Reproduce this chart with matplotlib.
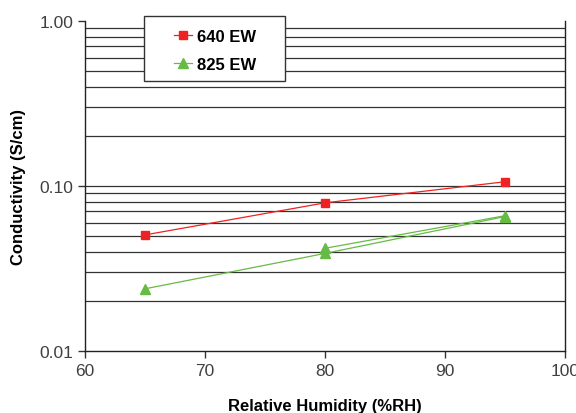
import matplotlib
matplotlib.use("Agg")
import matplotlib.pyplot as plt
from matplotlib.patches import Rectangle
from matplotlib.ticker import FixedLocator, NullFormatter

plt.rcParams['font.family'] = ['Liberation Sans', 'DejaVu Sans']

humidity = [65, 80, 95]
cond_640 = [0.0505, 0.079, 0.106]
cond_825 = [0.0238, 0.039, 0.0652]
humidity_825b = [80, 95]
cond_825b = [0.0419, 0.066]

red = '#ee2222'
green = '#66bb44'

fig = plt.figure(figsize=(5.76, 4.14), dpi=100)
ax = fig.add_axes([0.148, 0.15, 0.833, 0.797])

ax.set_yscale('log')
ax.set_ylim(0.01, 1.0)
ax.set_xlim(60, 100)

minor = [m * d for d in (0.01, 0.1) for m in range(2, 10)] + [0.1]
for v in minor:
    ax.axhline(v, color='#333333', lw=0.9, zorder=1)

ax.plot(humidity, cond_640, color=red, lw=0.9, marker='s', ms=6,
        label='640 EW', zorder=3)
ax.plot(humidity, cond_825, color=green, lw=0.9, marker='^', ms=6.5,
        label='825 EW', zorder=3)
ax.plot(humidity_825b, cond_825b, color=green, lw=0.9, marker='^', ms=6.5,
        zorder=3)

ax.yaxis.set_major_locator(FixedLocator([0.01, 0.1, 1.0]))
ax.yaxis.set_minor_locator(FixedLocator([]))
ax.yaxis.set_minor_formatter(NullFormatter())
ax.set_yticklabels(['0.01', '0.10', '1.00'])
ax.set_xticks([60, 70, 80, 90, 100])

ax.tick_params(axis='both', direction='out', length=5, width=1,
               labelsize=12.5, labelcolor='#404040', color='#333333')
ax.tick_params(axis='x', pad=4)

ax.spines['top'].set_visible(False)
for s in ('left', 'right', 'bottom'):
    ax.spines[s].set_color('#222222')
    ax.spines[s].set_linewidth(1)

ax.set_xlabel('Relative Humidity (%RH)', fontsize=12, fontweight='bold', labelpad=14)
ax.set_ylabel('Conductivity (S/cm)', fontsize=12, fontweight='bold', labelpad=10)

# legend box drawn separately so entries sit centred with wide side padding
box = Rectangle((0.123, 0.818), 0.294, 0.197, transform=ax.transAxes,
                facecolor='white', edgecolor='#333333', lw=1, zorder=4,
                clip_on=False)
ax.add_patch(box)

leg = ax.legend(loc='center', bbox_to_anchor=(0.27, 0.91),
                prop={'weight': 'bold', 'size': 12}, frameon=False,
                labelspacing=0.8, handlelength=1.1, handletextpad=0.3,
                borderpad=0, borderaxespad=0)
leg.set_zorder(5)

fig.savefig('out.png', dpi=100)
